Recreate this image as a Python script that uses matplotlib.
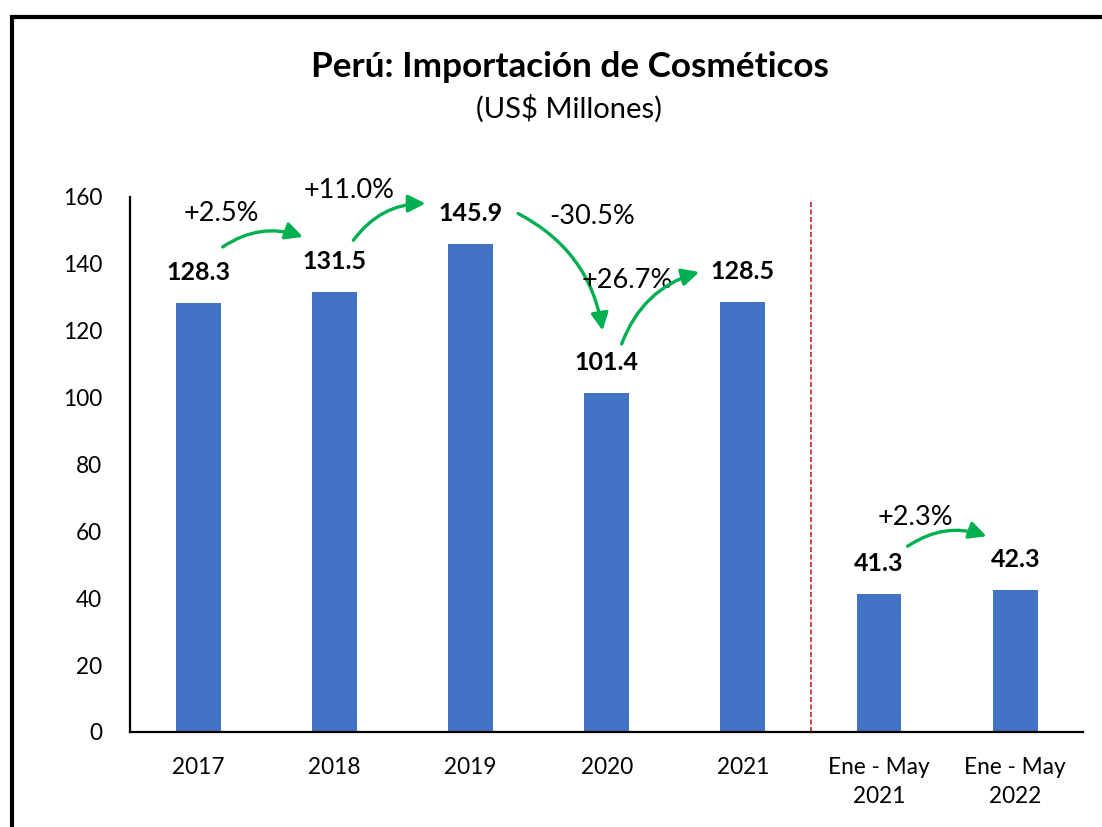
import numpy as np
import matplotlib.pyplot as plt
from matplotlib.patches import Rectangle

plt.rcParams['font.family'] = ['Lato', 'DejaVu Sans']

# Data
categories = ['2017', '2018', '2019', '2020', '2021', 'Ene - May\n2021', 'Ene - May\n2022']
values = [128.3, 131.5, 145.9, 101.4, 128.5, 41.3, 42.3]
value_labels = ['128.3', '131.5', '145.9', '101.4', '128.5', '41.3', '42.3']
changes = ['+2.5%', '+11.0%', '-30.5%', '+26.7%', '+2.3%']
change_from = [0, 1, 2, 3, 5]   # index of the bar each change starts from

# arrow/text placement (x offset from start bar, y in data units)
text_pos = [(0.17, 155), (0.11, 162), (0.89, 154), (0.15, 135), (0.27, 64)]
arrow_start = [(0.18, 145), (0.14, 147), (0.35, 155), (0.11, 116), (0.21, 55.5)]
arrow_end = [(0.77, 148), (0.67, 158), (0.97, 120), (0.68, 137.5), (0.79, 58.5)]

blue = '#4472C4'
green = '#00B050'

fig = plt.figure(figsize=(11.02, 8.27), dpi=100)
ax = fig.add_axes([0.118, 0.115, 0.865, 0.647])

x = np.arange(len(categories))
ax.bar(x, values, width=0.33, color=blue, zorder=2)

for xi, v, lab in zip(x, values, value_labels):
    ax.annotate(lab, (xi, v), xytext=(0, 22), textcoords='offset points',
                ha='center', va='center', fontsize=18, fontweight='bold')

for lab, i, tp, s, e in zip(changes, change_from, text_pos, arrow_start, arrow_end):
    ax.text(i + tp[0], tp[1], lab, ha='center', va='center', fontsize=19.5)
    ax.annotate('', xy=(i + e[0], e[1]), xytext=(i + s[0], s[1]),
                arrowprops=dict(arrowstyle='-|>', connectionstyle='arc3,rad=-0.25',
                                color=green, lw=2.4, mutation_scale=26,
                                shrinkA=0, shrinkB=0),
                annotation_clip=False)

# divider between annual and partial-year data
ax.plot([4.5, 4.5], [0, 159], color='#C0282D', lw=1.2, ls=(0, (3, 1.5)), zorder=1)

ax.set_xlim(-0.5, 6.5)
ax.set_ylim(0, 160)
ax.set_yticks(np.arange(0, 161, 20))
ax.set_xticks(x)
ax.set_xticklabels(categories, linespacing=1.45)
ax.tick_params(axis='both', length=0, labelsize=16.3)
ax.tick_params(axis='x', pad=18)
ax.tick_params(axis='y', pad=20)

for side in ['top', 'right']:
    ax.spines[side].set_visible(False)
for side in ['left', 'bottom']:
    ax.spines[side].set_linewidth(1.6)

fig.text(0.517, 0.919, 'Perú: Importación de Cosméticos', ha='center', va='center',
         fontsize=25.3, fontweight='bold')
fig.text(0.516, 0.869, '(US$ Millones)', ha='center', va='center', fontsize=21)

# outer frame (cropped at right and bottom)
fig.patches.append(Rectangle((0.0109, -0.1), 2, 1.0794, transform=fig.transFigure,
                             fill=False, edgecolor='black', lw=3, clip_on=False))

fig.savefig('out.png', dpi=100)
